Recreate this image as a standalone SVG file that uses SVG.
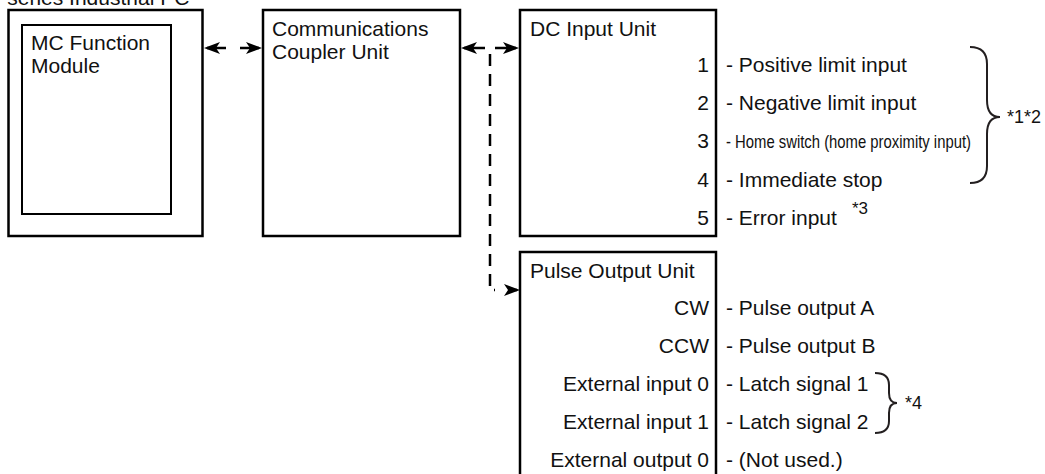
<svg xmlns="http://www.w3.org/2000/svg" width="1045" height="474" viewBox="0 0 1045 474">
<style>
.box{fill:#fff;stroke:#000;stroke-width:2.5}
.inner{fill:#fff;stroke:#000;stroke-width:2}
.t{font-family:"Liberation Sans",Arial,sans-serif;font-size:21px;fill:#111}
.num{text-anchor:end}
.note{font-family:"Liberation Sans",Arial,sans-serif;font-size:18px;fill:#111}
.conn{fill:none;stroke:#000;stroke-width:2.5}
.brace{fill:none;stroke:#231f20;stroke-width:2}
</style>
<defs>
<marker id="ah" viewBox="0 0 16 12" refX="13" refY="6" markerWidth="16" markerHeight="12" markerUnits="userSpaceOnUse" orient="auto-start-reverse">
<path d="M0,0 L16,6 L0,12 L4,6 z" fill="#000"/>
</marker>
</defs>
<text class="t" x="-27" y="5">NY-series Industrial PC</text>
<g id="industrial-pc">
<rect class="box" x="8.5" y="10" width="194" height="226"/>
</g>
<g id="mc-function-module">
<rect class="inner" x="22" y="25" width="149" height="189"/>
<text class="t" x="31" y="50">MC Function</text>
<text class="t" x="31" y="73">Module</text>
</g>
<g id="communications-coupler-unit">
<rect class="box" x="263" y="10" width="197" height="226"/>
<text class="t" x="272" y="36">Communications</text>
<text class="t" x="272" y="59">Coupler Unit</text>
</g>
<g id="dc-input-unit">
<rect class="box" x="520" y="10" width="196" height="226"/>
<text class="t" x="530" y="36">DC Input Unit</text>
<text class="t num" x="709" y="72">1</text>
<text class="t num" x="709" y="110">2</text>
<text class="t num" x="709" y="148">3</text>
<text class="t num" x="709" y="187">4</text>
<text class="t num" x="709" y="225">5</text>
<text class="t" x="726" y="72">- Positive limit input</text>
<text class="t" x="726" y="110">- Negative limit input</text>
<text class="t" x="726" y="148" style="font-size:19px" textLength="245" lengthAdjust="spacingAndGlyphs">- Home switch (home proximity input)</text>
<text class="t" x="726" y="187">- Immediate stop</text>
<text class="t" x="726" y="225">- Error input</text>
<text class="note" x="852" y="214" style="font-size:17px">*3</text>
<path class="brace" d="M970,47 Q987,47 987,64 L987,100 Q987,117 1000,117 Q987,117 987,134 L987,166 Q987,183 970,183"/>
<text class="note" x="1007" y="123">*1*2</text>
</g>
<g id="pulse-output-unit">
<rect class="box" x="520" y="252" width="196" height="240"/>
<text class="t" x="530" y="278">Pulse Output Unit</text>
<text class="t num" x="709" y="315">CW</text>
<text class="t num" x="709" y="353">CCW</text>
<text class="t num" x="709" y="391">External input 0</text>
<text class="t num" x="709" y="429">External input 1</text>
<text class="t num" x="709" y="467">External output 0</text>
<text class="t" x="726" y="315">- Pulse output A</text>
<text class="t" x="726" y="353">- Pulse output B</text>
<text class="t" x="726" y="391">- Latch signal 1</text>
<text class="t" x="726" y="429">- Latch signal 2</text>
<text class="t" x="726" y="467">- (Not used.)</text>
<path class="brace" d="M875,373 Q889,373 889,385 L889,393 Q889,403 897,403 Q889,403 889,413 L889,421 Q889,433 875,433"/>
<text class="note" x="905" y="409">*4</text>
</g>
<g id="connectors">
<line class="conn" x1="207" y1="48" x2="259" y2="48" stroke-dasharray="19 14" marker-start="url(#ah)" marker-end="url(#ah)"/>
<line class="conn" x1="464" y1="48" x2="516" y2="48" stroke-dasharray="21 10" marker-start="url(#ah)" marker-end="url(#ah)"/>
<path class="conn" d="M490,54 V290 H495" stroke-dasharray="12 8"/>
<line class="conn" x1="508" y1="290" x2="517" y2="290" marker-end="url(#ah)"/>
</g>
</svg>
